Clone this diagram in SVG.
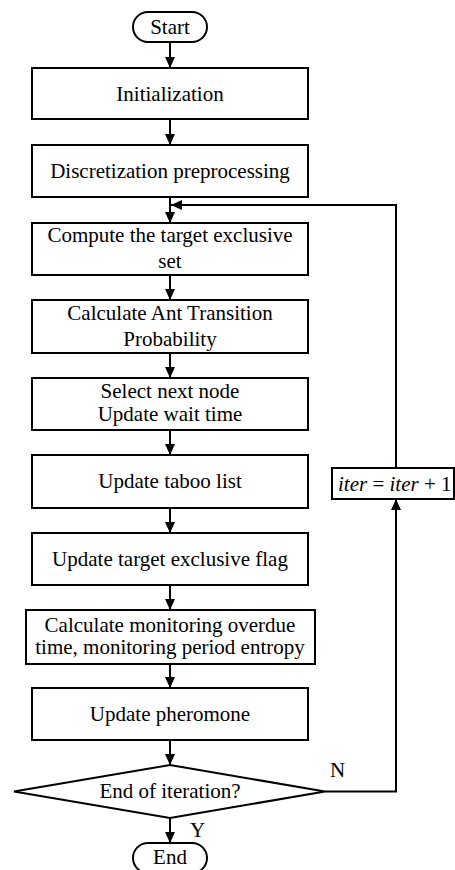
<svg xmlns="http://www.w3.org/2000/svg" width="455" height="870" viewBox="0 0 455 870" font-family="Liberation Serif">
  <defs>
    <marker id="arrow" markerUnits="userSpaceOnUse" markerWidth="11" markerHeight="10" refX="11" refY="5" orient="auto">
      <path d="M0,0 L11,5 L0,10 z" fill="#000"/>
    </marker>
    <style>
      .box { fill: #fff; stroke: #000; stroke-width: 2; }
      .lbl { font-size: 21px; fill: #000; text-anchor: middle; }
      .tag { font-size: 21px; fill: #000; }
      .edge { fill: none; stroke: #000; stroke-width: 2; }
      .arr { marker-end: url(#arrow); }
    </style>
  </defs>
  <rect width="455" height="870" fill="#fff"/>

  <!-- connectors -->
  <g id="connectors">
    <line class="edge arr" x1="170" y1="42" x2="170" y2="68"/>
    <line class="edge arr" x1="170" y1="119" x2="170" y2="145"/>
    <line class="edge arr" x1="170" y1="197" x2="170" y2="223"/>
    <line class="edge arr" x1="170" y1="275" x2="170" y2="300"/>
    <line class="edge arr" x1="170" y1="353" x2="170" y2="378"/>
    <line class="edge arr" x1="170" y1="430" x2="170" y2="455"/>
    <line class="edge arr" x1="170" y1="508" x2="170" y2="533"/>
    <line class="edge arr" x1="170" y1="585" x2="170" y2="610"/>
    <line class="edge arr" x1="170" y1="664" x2="170" y2="688"/>
    <line class="edge arr" x1="170" y1="740" x2="170" y2="765"/>
    <line class="edge arr" x1="170" y1="818" x2="170" y2="843"/>
    <!-- loop back: N branch to the counter, then to the top of the iteration -->
    <polyline class="edge arr" points="325,791.5 396,791.5 396,499"/>
    <polyline class="edge arr" points="396,468 396,205 171,205"/>
    <text class="tag" font-family="Liberation Serif" x="330" y="777">N</text>
    <text class="tag" font-family="Liberation Serif" x="190" y="837">Y</text>
  </g>

  <g id="start">
    <rect class="box" x="133" y="12" width="74" height="30" rx="15" ry="15"/>
    <text class="lbl" font-family="Liberation Serif" x="170" y="34">Start</text>
  </g>

  <g id="init">
    <rect class="box" x="32" y="68" width="276" height="51"/>
    <text class="lbl" font-family="Liberation Serif" x="170" y="101">Initialization</text>
  </g>

  <g id="discretize">
    <rect class="box" x="32" y="145" width="276" height="52"/>
    <text class="lbl" font-family="Liberation Serif" x="170" y="178">Discretization preprocessing</text>
  </g>

  <g id="exclusive-set">
    <rect class="box" x="32" y="223" width="276" height="52"/>
    <text class="lbl" font-family="Liberation Serif" x="170" y="242">Compute the target exclusive</text>
    <text class="lbl" font-family="Liberation Serif" x="170" y="268">set</text>
  </g>

  <g id="transition">
    <rect class="box" x="32" y="300" width="276" height="53"/>
    <text class="lbl" font-family="Liberation Serif" x="170" y="320">Calculate Ant Transition</text>
    <text class="lbl" font-family="Liberation Serif" x="170" y="346">Probability</text>
  </g>

  <g id="select-node">
    <rect class="box" x="32" y="378" width="276" height="52"/>
    <text class="lbl" font-family="Liberation Serif" x="170" y="398">Select next node</text>
    <text class="lbl" font-family="Liberation Serif" x="170" y="421">Update wait time</text>
  </g>

  <g id="taboo">
    <rect class="box" x="32" y="455" width="276" height="53"/>
    <text class="lbl" font-family="Liberation Serif" x="170" y="488">Update taboo list</text>
  </g>

  <g id="exclusive-flag">
    <rect class="box" x="32" y="533" width="276" height="52"/>
    <text class="lbl" font-family="Liberation Serif" x="170" y="566">Update target exclusive flag</text>
  </g>

  <g id="monitoring">
    <rect class="box" x="26" y="610" width="289" height="54"/>
    <text class="lbl" font-family="Liberation Serif" x="170" y="632">Calculate monitoring overdue</text>
    <text class="lbl" font-family="Liberation Serif" x="170" y="654">time, monitoring period entropy</text>
  </g>

  <g id="pheromone">
    <rect class="box" x="32" y="688" width="276" height="52"/>
    <text class="lbl" font-family="Liberation Serif" x="170" y="721">Update pheromone</text>
  </g>

  <g id="end-check">
    <polygon class="box" points="170,765 325,791.5 170,818 14,791.5"/>
    <text class="lbl" font-family="Liberation Serif" x="170" y="798">End of iteration?</text>
  </g>

  <g id="counter">
    <rect class="box" x="332" y="468" width="122" height="31"/>
    <text class="tag" font-family="Liberation Serif" x="338" y="491"><tspan font-style="italic">iter</tspan> = <tspan font-style="italic">iter</tspan> + 1</text>
  </g>

  <g id="end">
    <rect class="box" x="133" y="843" width="74" height="30" rx="15" ry="15"/>
    <text class="lbl" font-family="Liberation Serif" x="170" y="864">End</text>
  </g>
</svg>
